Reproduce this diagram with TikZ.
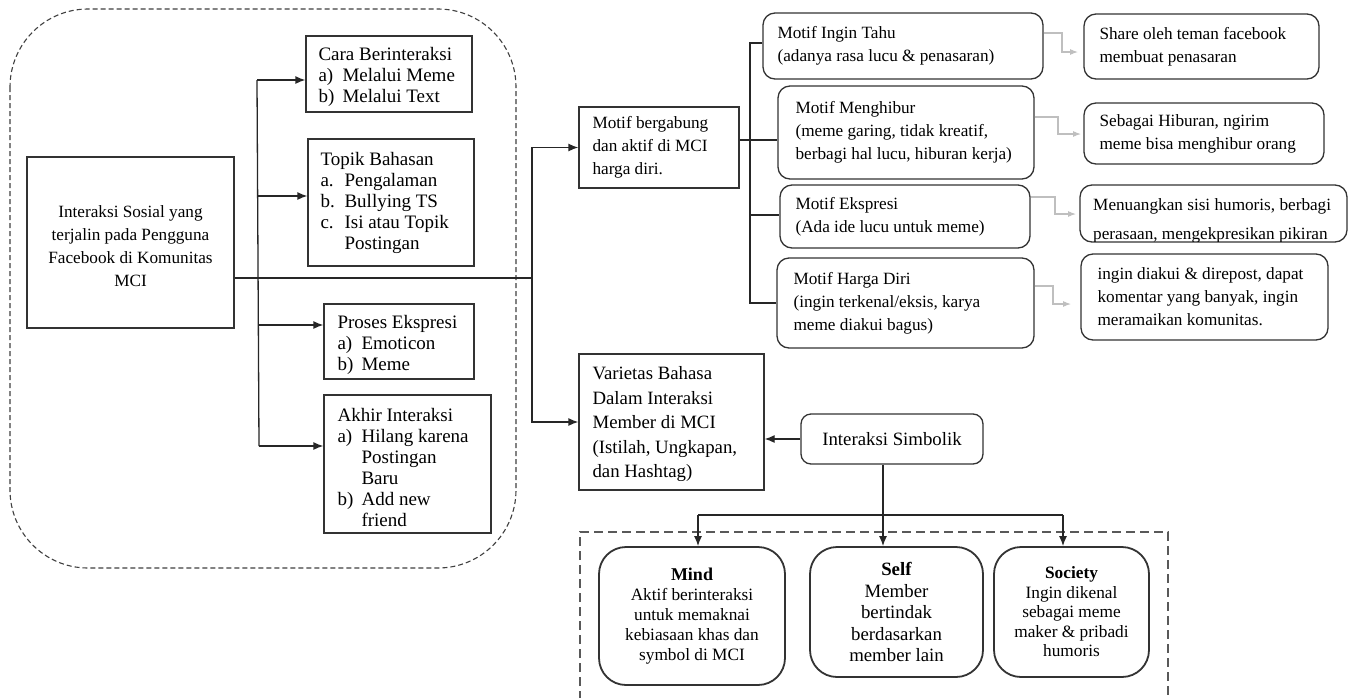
\documentclass[tikz,border=0pt]{standalone}
\usepackage{fontspec}
\setmainfont{Liberation Serif}
\usetikzlibrary{arrows.meta}
\newcommand\itemlab[1]{\makebox[24pt][l]{#1}}
\newcommand\fA{\fontsize{19}{21}\selectfont}
\newcommand\fB{\fontsize{17.2}{23}\selectfont}
\newcommand\fV{\fontsize{18.8}{24.5}\selectfont}
\tikzset{
 box/.style={draw=black!80, line width=1.3pt, inner sep=0pt},
 rbox/.style={box, rounded corners=12pt},
 bbox/.style={draw=black!80, line width=1.8pt, rounded corners=27pt, inner sep=0pt, align=center},
 txt/.style={inner sep=0pt, align=left, anchor=west},
 ln/.style={line width=1.3pt, black!85},
 arr/.style={ln, -{Latex[length=10pt,width=8pt]}},
 garr/.style={draw=black!25, line width=1.1pt, -{Latex[length=8pt,width=6pt]}},
}
\begin{document}
\begin{tikzpicture}[x=1pt,y=-1pt]
\useasboundingbox (0,0) rectangle (1350,697);
\clip (0,0) rectangle (1350,697);
\fill[white] (0,0) rectangle (1350,697);
% outer dashed group
\draw[dash pattern=on 5pt off 3pt, line width=1.1pt, black!75, rounded corners=78pt] (10,9) rectangle (516,568);
% left side
\node[box, minimum width=207pt, minimum height=171pt] (main) at (130.5,242.5) {};
\node[inner sep=0pt, align=center, font=\fontsize{17.2}{23}\selectfont] (mainT) at ([yshift=-4pt]main.center) {Interaksi Sosial yang\\terjalin pada Pengguna\\Facebook di Komunitas\\MCI};
\node[box, minimum width=166pt, minimum height=76pt] (cara) at (389,74) {};
\node[txt, font=\fA] (caraT) at ([xshift=13pt,yshift=-3pt]cara.west) {Cara Berinteraksi\\\itemlab{a)}Melalui Meme\\\itemlab{b)}Melalui Text};
\node[box, minimum width=166pt, minimum height=127pt] (topik) at (391,202.5) {};
\node[txt, font=\fA] (topikT) at ([xshift=13pt]topik.west) {Topik Bahasan\\\itemlab{a.}Pengalaman\\\itemlab{b.}Bullying TS\\\itemlab{c.}Isi atau Topik\\\itemlab{}Postingan};
\node[box, minimum width=150pt, minimum height=75pt] (proses) at (399,341.5) {};
\node[txt, font=\fA] (prosesT) at ([xshift=14pt,yshift=-3pt]proses.west) {Proses Ekspresi\\\itemlab{a)}Emoticon\\\itemlab{b)}Meme};
\node[box, minimum width=167pt, minimum height=138pt] (akhir) at (407.5,464) {};
\node[txt, font=\fA] (akhirT) at ([xshift=14pt,yshift=-3pt]akhir.west) {Akhir Interaksi\\\itemlab{a)}Hilang karena\\\itemlab{}Postingan\\\itemlab{}Baru\\\itemlab{b)}Add new\\\itemlab{}friend};
% middle
\node[box, minimum width=160pt, minimum height=81pt] (bergabung) at (659,147.5) {};
\node[txt, font=\fB] (bergabungT) at ([xshift=14pt]bergabung.west) {Motif bergabung\\dan aktif di MCI\\harga diri.};
\node[box, minimum width=185pt, minimum height=136pt] (varietas) at (671.5,422) {};
\node[txt, font=\fV] (varietasT) at ([xshift=14pt,yshift=-2pt]varietas.west) {Varietas Bahasa\\Dalam Interaksi\\Member di MCI\\(Istilah, Ungkapan,\\dan Hashtag)};
% motif boxes
\node[rbox, minimum width=280pt, minimum height=66pt] (ingin) at (903,46) {};
\node[txt, font=\fB] (inginT) at ([xshift=15pt]ingin.west) {Motif Ingin Tahu\\(adanya rasa lucu \& penasaran)};
\node[rbox, minimum width=256pt, minimum height=93pt] (menghibur) at (906,132.5) {};
\node[txt, font=\fB] (menghiburT) at ([xshift=18pt]menghibur.west) {Motif Menghibur\\(meme garing, tidak kreatif,\\berbagi hal lucu, hiburan kerja)};
\node[rbox, minimum width=250pt, minimum height=63pt] (ekspresi) at (905,216.5) {};
\node[txt, font=\fB] (ekspresiT) at ([xshift=16pt]ekspresi.west) {Motif Ekspresi\\(Ada ide lucu untuk meme)};
\node[rbox, minimum width=257pt, minimum height=90pt] (harga) at (905.5,303) {};
\node[txt, font=\fB] (hargaT) at ([xshift=17pt]harga.west) {Motif Harga Diri\\(ingin terkenal/eksis, karya\\meme diakui bagus)};
% right boxes
\node[rbox, minimum width=235pt, minimum height=65pt] (share) at (1201.5,46.5) {};
\node[txt, font=\fB] (shareT) at ([xshift=16pt]share.west) {Share oleh teman facebook\\membuat penasaran};
\node[rbox, minimum width=240pt, minimum height=61pt] (sebagai) at (1204,133.5) {};
\node[txt, font=\fB] (sebagaiT) at ([xshift=16pt]sebagai.west) {Sebagai Hiburan, ngirim\\meme bisa menghibur orang};
\node[rbox, minimum width=267pt, minimum height=57pt] (menuangkan) at (1213.5,213.5) {};
\begin{scope}
\clip[rounded corners=11pt] ([shift={(0.7pt,-0.7pt)}]menuangkan.north west) rectangle ([shift={(-0.7pt,0.7pt)}]menuangkan.south east);
\node[txt, anchor=north west, font=\fontsize{17.2}{29}\selectfont] (menuangkanT) at (1093,198.5) {Menuangkan sisi humoris, berbagi\\perasaan, mengekpresikan pikiran};
\end{scope}
\node[rbox, minimum width=247pt, minimum height=86pt] (diakui) at (1204.5,297) {};
\node[txt, font=\fB] (diakuiT) at ([xshift=17pt]diakui.west) {ingin diakui \& direpost, dapat\\komentar yang banyak, ingin\\meramaikan komunitas.};
% simbolik
\node[box, rounded corners=10pt, minimum width=182pt, minimum height=50pt, font=\fontsize{18.8}{22}\selectfont] (simbolik) at (892,439) {Interaksi Simbolik};
% bottom group
\draw[dash pattern=on 9pt off 5pt, line width=1.5pt, black!65] (580,700) -- (580,532) -- (1168,532) -- (1168,700);
\node[bbox, minimum width=186pt, minimum height=138pt, font=\fontsize{17.3}{20}\selectfont] (mind) at (692,616) {{\fontsize{18}{20}\selectfont\textbf{Mind}}\\Aktif berinteraksi\\untuk memaknai\\kebiasaan khas dan\\symbol di MCI};
\node[bbox, minimum width=173pt, minimum height=130pt, font=\fontsize{18.8}{21.5}\selectfont] (self) at (896.5,612) {\textbf{Self}\\Member\\bertindak\\berdasarkan\\member lain};
\node[bbox, minimum width=155pt, minimum height=130pt, font=\fontsize{17.3}{19.5}\selectfont] (society) at (1071.5,612) {\textbf{Society}\\Ingin dikenal\\sebagai meme\\maker \& pribadi\\humoris};
% connectors: main -> right
\coordinate (j1) at (532,278);
\draw[ln] (main.east |- j1) -- (j1);
\draw[arr] (j1) |- (bergabung.west);
\draw[arr] (j1) |- (varietas.west);
% left trunk
\coordinate (tt) at (257,80);
\coordinate (tk) at (258,196);
\coordinate (tp) at (259,325);
\coordinate (ta) at (259,446);
\draw[ln] (tt) -- (ta);
\draw[arr] (tt) -- (tt -| cara.west);
\draw[arr] (tk) -- (tk -| topik.west);
\draw[arr] (tp) -- (tp -| proses.west);
\draw[arr] (ta) -- (ta -| akhir.west);
% bergabung branch
\coordinate (b0) at (750,140);
\coordinate (b1) at (750,43);
\coordinate (b2) at (750,215);
\coordinate (b3) at (750,303);
\draw[ln] (bergabung.east |- b0) -- (b0) -- (b0 -| menghibur.west);
\draw[ln] (b1 -| ingin.west) -- (b1) -- (b3) -- (b3 -| harga.west);
\draw[ln] (b2) -- (b2 -| ekspresi.west);
% gray connectors
\coordinate (g1) at (1062,33);   \coordinate (g1e) at (1078,52);
\coordinate (g2) at (1058,117);  \coordinate (g2e) at (1081,134);
\coordinate (g3) at (1055,197);  \coordinate (g3e) at (1076,214);
\coordinate (g4) at (1053,286);  \coordinate (g4e) at (1071,304);
\draw[garr] (g1 -| ingin.east) -- (g1) |- (g1e);
\draw[garr] (g2 -| menghibur.east) -- (g2) |- (g2e);
\draw[garr] (g3 -| ekspresi.east) -- (g3) |- (g3e);
\draw[garr] (g4 -| harga.east) -- (g4) |- (g4e);
% simbolik connectors
\draw[arr] (simbolik.west) -- (simbolik.west -| varietas.east);
\coordinate (sb) at (883,515);
\coordinate (sm) at (698,515);
\coordinate (ss) at (1063,515);
\draw[ln] (simbolik.south -| sb) -- (sb);
\draw[ln] (sm) -- (ss);
\draw[arr] (sb) -- (sb |- self.north);
\draw[arr] (sm) -- (sm |- mind.north);
\draw[arr] (ss) -- (ss |- society.north);
\end{tikzpicture}
\end{document}
